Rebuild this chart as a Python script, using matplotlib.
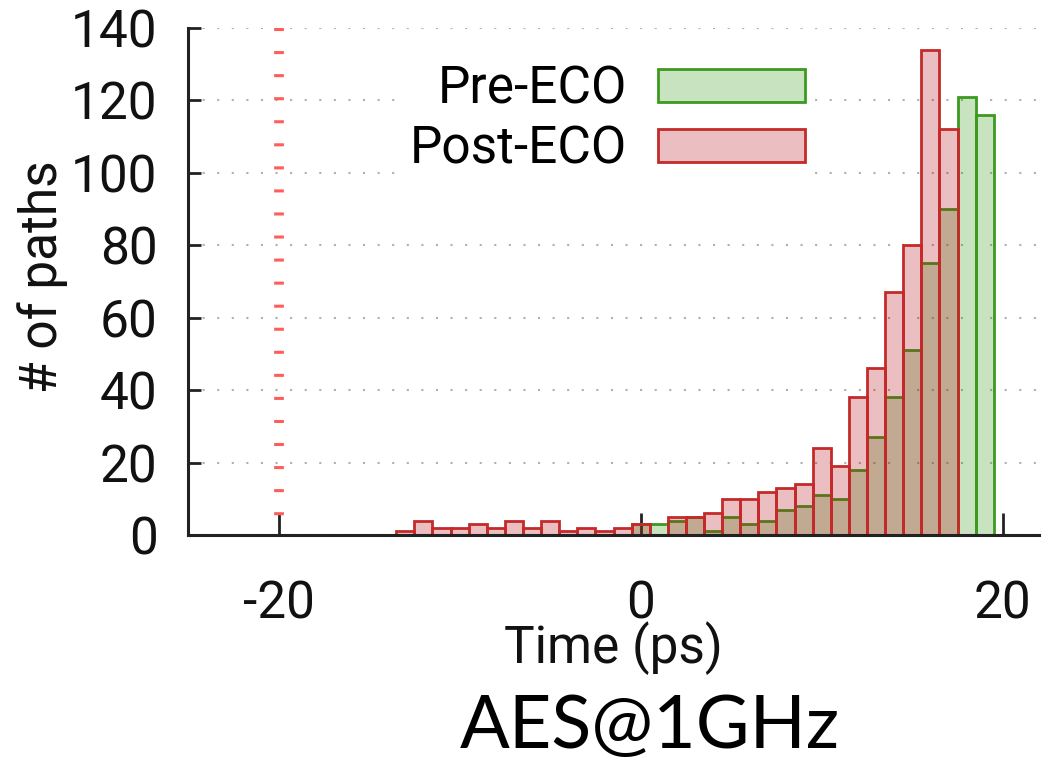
import matplotlib
matplotlib.use("Agg")
import matplotlib.pyplot as plt
from matplotlib.patches import Patch

# ---- data ----
bin_centers = list(range(-13, 20))
pre_eco = [0, 0, 0, 0, 0, 0, 0, 0, 0, 0, 0, 0, 0, 3,
           3, 4, 5, 1, 5, 3, 4, 7, 8, 11, 10, 18, 27, 38, 51, 75, 90, 121, 116]
post_eco = [1, 4, 2, 2, 3, 2, 4, 2, 4, 1, 2, 1, 2, 3,
            0, 5, 5, 6, 10, 10, 12, 13, 14, 24, 19, 38, 46, 67, 80, 134, 112, 0, 0]
x_ticks = [-20, 0, 20]
y_ticks = [0, 20, 40, 60, 80, 100, 120, 140]
clock_line_x = -20
series_labels = ["Pre-ECO", "Post-ECO"]
x_label = "Time (ps)"
y_label = "# of paths"
caption = "AES@1GHz"

plt.rcParams['font.family'] = ['Roboto', 'DejaVu Sans']
plt.rcParams['lines.scale_dashes'] = False
plt.rcParams['axes.unicode_minus'] = False

G_EDGE = '#3c9a1e'
G_FILL = (35/255, 147/255, 3/255, 0.25)
R_EDGE = '#c42a2a'
R_FILL = (179/255, 3/255, 11/255, 0.25)

fig = plt.figure(figsize=(10.43, 7.61), dpi=100)
ax = fig.add_axes([188/1043, 226/761, 851/1043, 507/761])

def draw(vals, fill, edge, z):
    xs = [c for c, v in zip(bin_centers, vals) if v > 0]
    hs = [v for v in vals if v > 0]
    ax.bar(xs, hs, width=1.0, facecolor=fill, edgecolor=edge, linewidth=2.0, zorder=z)

draw(pre_eco, G_FILL, G_EDGE, 3)
draw(post_eco, R_FILL, R_EDGE, 4)

ax.plot([clock_line_x, clock_line_x], [140, 0], color='#ff5c5c', linewidth=7,
        dashes=(2.2, 14.4), solid_capstyle='butt', dash_capstyle='butt', zorder=5)

ax.set_xlim(-25, 22)
ax.set_ylim(0, 140)
ax.set_xticks(x_ticks)
ax.set_yticks(y_ticks)
ax.yaxis.grid(True, color='#b0b0b0', linewidth=1.5, linestyle=(0, (1.5, 9)), zorder=1)
ax.xaxis.grid(False)
ax.set_axisbelow(True)

for s in ['top', 'right']:
    ax.spines[s].set_visible(False)
for s in ['left', 'bottom']:
    ax.spines[s].set_linewidth(2.2)
    ax.spines[s].set_color('#222222')
    ax.spines[s].set_zorder(6)

ax.tick_params(axis='y', direction='in', length=9, width=2, pad=22, labelsize=37, colors='#222222', labelcolor='#111111')
ax.tick_params(axis='x', direction='in', length=16, width=2, pad=32, labelsize=37, colors='#222222', labelcolor='#111111')

ax.set_xlabel(x_label, fontsize=37, labelpad=-6, color='#111111')
ax.set_ylabel(y_label, fontsize=37, color='#111111')
ax.yaxis.set_label_coords(-0.141, 0.51)

handles = [Patch(facecolor=G_FILL, edgecolor=G_EDGE, linewidth=2.0),
           Patch(facecolor=R_FILL, edgecolor=R_EDGE, linewidth=2.0)]
leg = ax.legend(handles, series_labels, loc='upper right', bbox_to_anchor=((815 - 188) / 851, 1 - 26/507),
                markerfirst=False, fontsize=37, frameon=True, fancybox=False,
                handlelength=2.86, handleheight=0.62, handletextpad=0.6, labelspacing=0.2,
                borderpad=0.2, borderaxespad=0)
leg.get_frame().set_facecolor('white')
leg.get_frame().set_edgecolor('none')
leg.get_frame().set_alpha(1)
leg.set_zorder(7)

fig.text(650/1043, 1 - 748/761, caption, fontsize=53, family=['Lato', 'DejaVu Sans'],
         ha='center', va='baseline', color='black')

fig.savefig('out.png', dpi=100)
